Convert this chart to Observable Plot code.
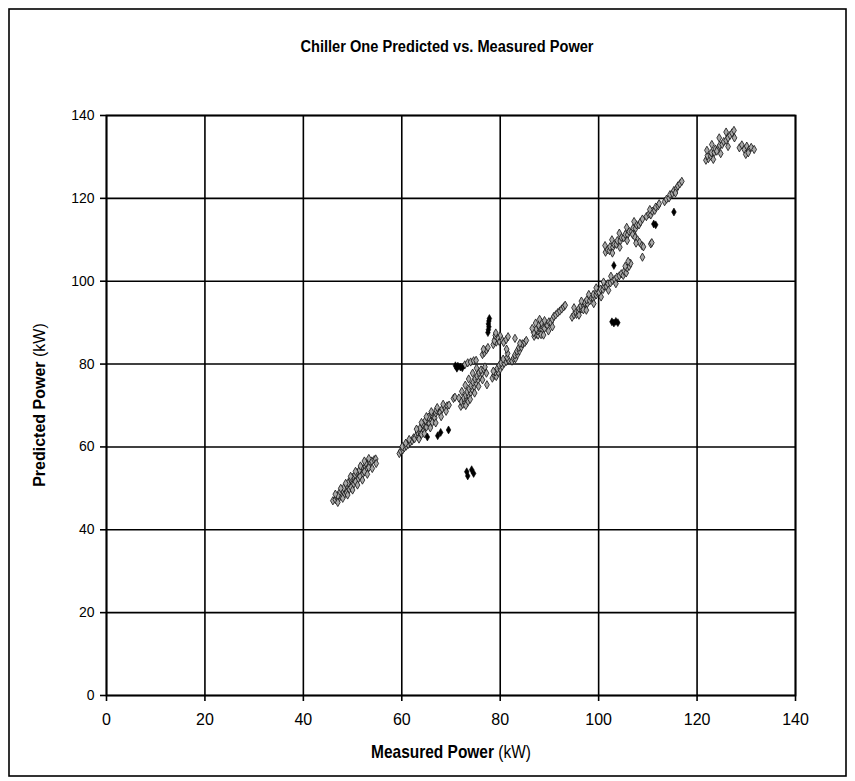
<!DOCTYPE html>
<html>
<head>
<meta charset="utf-8">
<script src="https://cdn.jsdelivr.net/npm/d3@7"></script>
<script src="https://cdn.jsdelivr.net/npm/@observablehq/plot@0.6"></script>
<style>
  html, body { margin: 0; padding: 0; background: #fff; }
  #chart { width: 855px; height: 781px; }
</style>
</head>
<body>
<div id="chart"></div>
<script>
// Tick values
const xTicks = [0, 20, 40, 60, 80, 100, 120, 140];
const yTicks = [0, 20, 40, 60, 80, 100, 120, 140];

// [measured kW, predicted kW], grouped by cluster
const group45to57 = [[46.0,47.0],[46.5,47.3],[46.8,47.8],[47.2,47.5],[47.5,48.3],[47.8,48.8],[47.3,48.9],[48.1,49.2],[48.4,48.6],[48.6,49.8],[48.2,50.1],[49.0,50.4],[49.3,49.7],[49.5,51.0],[49.1,51.3],[49.9,51.5],[50.2,50.9],[50.4,52.2],[50.0,52.6],[50.8,52.8],[51.1,52.1],[51.3,53.5],[50.9,53.8],[51.7,54.0],[52.0,53.3],[52.2,54.6],[51.8,55.0],[52.6,55.2],[52.9,54.5],[53.1,55.8],[52.7,56.1],[53.5,56.3],[53.9,56.6],[54.4,56.9],[54.7,57.1],[49.7,50.2],[50.6,51.6],[51.5,52.9],[52.4,54.0],[48.8,48.9],[47.0,48.2],[49.6,52.3],[50.5,53.3],[51.4,54.4],[53.3,55.0],[47.0,46.6],[48.0,47.6],[49.0,48.4],[50.0,49.6],[51.0,50.8],[52.0,52.0],[53.0,53.4],[54.0,54.8],[54.8,56.0],[46.5,48.6],[47.6,50.0],[48.6,51.2],[49.6,52.9],[50.6,54.1],[51.6,55.4],[52.4,56.6],[53.3,57.2]];
const group58to70 = [[59.5,58.4],[59.8,59.0],[60.2,59.3],[60.5,59.8],[60.1,60.1],[60.9,60.2],[61.3,60.6],[60.8,60.9],[61.7,61.1],[62.1,61.5],[61.5,61.8],[62.4,62.2],[62.6,62.0],[63.0,62.8],[63.4,62.5],[63.2,63.6],[63.8,63.4],[64.1,64.2],[63.7,64.5],[64.5,64.0],[64.6,65.1],[64.2,65.5],[65.0,64.8],[65.2,66.0],[64.8,66.4],[65.6,65.7],[65.8,66.9],[66.3,67.4],[65.9,67.8],[66.7,67.0],[66.9,68.2],[67.4,68.6],[67.0,68.9],[67.8,68.3],[68.2,69.2],[68.7,69.6],[69.2,69.9],[69.6,70.1],[65.4,67.2],[64.0,63.0],[66.2,65.9],[63.5,61.9],[64.6,63.2],[65.8,64.6],[66.9,65.8],[68.0,67.3],[69.0,68.6],[63.0,64.3],[64.0,65.9],[65.0,67.3],[66.0,68.5],[67.2,69.5],[68.4,70.3]];
const group70to82 = [[72.0,69.8],[72.4,70.3],[72.1,71.0],[72.8,70.9],[72.6,71.8],[73.2,71.6],[73.0,72.5],[73.6,72.4],[73.3,73.3],[74.0,73.1],[73.7,74.0],[74.3,73.9],[74.1,74.8],[74.7,74.6],[74.5,75.6],[75.1,75.4],[74.9,76.4],[75.5,76.2],[75.3,77.1],[75.9,77.0],[75.7,77.9],[76.3,77.8],[76.1,78.6],[76.7,78.7],[76.9,79.3],[73.4,70.8],[70.5,71.7],[70.8,72.0],[77.3,75.0],[73.0,70.0],[73.9,71.5],[74.8,73.0],[75.6,74.6],[76.4,76.2],[77.2,77.8],[71.6,71.8],[72.2,73.4],[72.9,74.9],[73.6,76.4],[74.4,77.8],[75.2,79.0],[72.8,79.8],[73.4,80.3],[74.0,80.5],[74.6,80.8],[75.1,80.9],[78.4,76.6],[78.8,77.3],[79.2,77.0],[79.0,78.1],[79.6,78.0],[79.4,78.9],[80.0,78.8],[79.8,79.7],[80.4,79.5],[80.2,80.3],[80.8,80.2],[81.2,80.6],[81.6,81.0],[78.6,78.3],[80.6,81.2]];
const group82to91 = [[76.4,82.3],[76.8,82.8],[77.2,83.4],[76.6,83.6],[77.5,84.0],[78.6,84.7],[79.2,85.3],[79.0,86.1],[79.8,85.5],[80.3,86.0],[80.7,85.2],[81.2,85.9],[81.6,86.6],[80.0,86.8],[79.4,86.4],[78.8,85.6],[79.0,86.9],[79.1,87.5],[81.4,81.6],[81.5,82.6],[81.3,83.6],[83.0,86.2],[82.4,80.7],[82.7,81.4],[83.1,81.3],[83.0,82.2],[83.5,82.3],[83.4,83.1],[83.9,83.2],[83.8,84.0],[84.3,84.1],[84.5,84.9],[85.0,85.2],[85.3,85.7],[84.0,85.0]];
const group86to95 = [[86.9,86.7],[87.3,87.2],[86.8,87.6],[87.7,87.0],[87.6,88.0],[88.1,87.6],[87.3,88.5],[88.0,88.8],[88.5,88.3],[87.8,89.4],[88.6,89.2],[89.0,88.6],[88.4,90.0],[89.2,89.8],[89.6,89.3],[89.0,90.5],[89.9,90.2],[90.3,90.0],[90.6,90.8],[90.9,91.5],[91.3,91.9],[91.7,92.4],[92.1,92.8],[92.5,93.3],[92.9,93.8],[93.2,94.2],[88.3,87.1],[88.8,87.0],[89.8,88.0],[90.6,89.0],[86.5,88.6],[87.2,89.9],[88.0,90.8]];
const group91to105 = [[94.6,91.3],[95.0,91.9],[95.5,92.0],[95.3,92.7],[95.9,92.6],[96.0,93.4],[96.5,93.3],[96.4,94.1],[97.0,94.0],[97.2,94.8],[97.7,94.6],[97.6,95.5],[98.2,95.3],[98.4,96.1],[98.9,95.9],[98.9,96.8],[99.5,96.7],[99.6,97.5],[100.1,97.3],[100.4,98.1],[100.9,98.0],[101.1,98.8],[101.6,98.7],[101.9,99.4],[102.4,99.6],[102.8,100.2],[103.3,100.4],[103.7,101.0],[104.2,101.3],[104.6,101.8],[105.0,101.4],[105.2,102.4],[105.6,102.0],[105.8,103.2],[106.2,103.6],[106.5,104.3],[106.0,104.8],[105.4,103.6],[96.9,93.1],[96.0,91.8],[97.5,93.0],[99.0,94.6],[100.5,96.2],[102.0,97.8],[103.5,99.4],[95.0,93.6],[96.5,95.2],[98.0,96.8],[99.5,98.4],[101.0,99.8],[102.5,101.2]];
const group107to119 = [[101.4,107.0],[101.8,107.6],[102.2,107.4],[102.3,108.3],[102.9,108.2],[103.1,109.0],[103.6,108.9],[103.8,109.8],[104.4,109.7],[104.6,110.6],[105.1,110.5],[105.4,111.3],[105.9,111.2],[106.2,112.0],[106.7,112.0],[107.0,112.8],[107.5,112.7],[107.7,113.6],[108.2,113.6],[108.5,114.3],[108.9,115.0],[102.8,106.8],[104.3,108.2],[105.8,109.8],[107.2,111.3],[101.3,108.6],[102.7,110.0],[104.2,111.6],[105.7,113.0],[107.2,114.4],[106.9,111.3],[107.4,110.6],[107.9,110.0],[108.3,109.4],[108.8,108.6],[109.1,108.3],[107.6,109.2],[110.6,109.0],[110.8,109.3],[108.9,105.8],[109.7,115.6],[110.2,116.2],[110.6,116.0],[110.9,116.9],[111.4,117.1],[111.6,117.9],[112.1,118.2],[112.3,118.7],[110.4,117.3]];
const group119to137 = [[113.4,119.2],[113.8,119.8],[114.3,120.1],[114.5,120.9],[115.0,121.2],[115.3,121.9],[115.8,122.3],[116.1,123.0],[116.5,123.5],[116.9,124.1],[115.6,121.3],[121.8,129.2],[122.3,129.6],[122.1,130.3],[122.8,130.2],[122.9,131.0],[123.5,131.1],[123.7,131.9],[124.3,132.1],[124.6,132.8],[125.1,133.0],[125.4,133.7],[125.9,134.0],[126.3,134.6],[126.7,135.2],[127.1,135.8],[127.5,136.4],[124.0,131.4],[123.3,129.4],[124.8,130.8],[126.3,132.5],[127.6,134.6],[122.0,131.6],[123.0,133.0],[124.5,134.6],[125.9,136.0],[128.6,132.2],[129.1,132.9],[129.6,131.8],[130.1,132.6],[130.5,131.6],[131.0,132.3],[131.6,131.8],[129.9,130.6],[130.4,131.0]];
// Small isolated / overlapping points that print as solid black
const isolatedPoints = [[65.2,62.4],[67.3,62.7],[67.9,63.5],[69.5,64.1],[73.2,54.0],[73.4,53.0],[74.2,54.5],[74.6,53.6],[77.5,87.6],[77.6,88.3],[77.7,89.0],[77.6,89.7],[77.7,90.4],[77.8,91.0],[70.9,79.6],[71.4,79.5],[71.9,79.3],[72.3,79.1],[71.2,79.0],[102.7,90.2],[103.1,89.9],[103.5,90.3],[103.9,90.0],[103.1,103.8],[111.2,113.8],[111.6,113.6],[115.3,116.7]];

const toRow = ([measured, predicted]) => ({measured, predicted});
const points = [group45to57, group58to70, group70to82, group82to91, group86to95, group91to105, group107to119, group119to137].flat().map(toRow);
const dark = isolatedPoints.map(toRow);

const W = 855, H = 781;
const arial = "'Liberation Sans', Arial, Helvetica, sans-serif";

const chart = Plot.plot({
  width: W,
  height: H,
  marginLeft: 106,
  marginRight: 60,
  marginTop: 115,
  marginBottom: 86,
  style: {background: "#fff", color: "#000", fontFamily: arial},
  x: {domain: [0, 140], ticks: xTicks, label: null},
  y: {domain: [0, 140], ticks: yTicks, label: null},
  marks: [
    Plot.gridX(xTicks, {stroke: "#000", strokeOpacity: 1, strokeWidth: 1.6}),
    Plot.gridY(yTicks, {stroke: "#000", strokeOpacity: 1, strokeWidth: 1.6}),
    Plot.frame({stroke: "#000", strokeWidth: 1.8}),
    Plot.axisX(xTicks, {tickSize: 6, tickPadding: 12, fontSize: 16, stroke: "#000", strokeWidth: 1.6, tickFormat: d => String(d)}),
    Plot.axisY(yTicks, {tickSize: 6, tickPadding: 6, fontSize: 14, stroke: "#000", strokeWidth: 1.6, tickFormat: d => String(d)}),
    Plot.dot(points, {x: "measured", y: "predicted", r: 2.5, fill: "#a8a8a8", stroke: "#111", strokeWidth: 0.8, symbol: "diamond"}),
    Plot.dot(dark, {x: "measured", y: "predicted", r: 2.4, fill: "#000", stroke: "#000", strokeWidth: 0.6, symbol: "diamond"})
  ]
});

document.getElementById("chart").appendChild(chart);

const svg = d3.select(chart);
// Outer chart-area border
svg.append("rect")
  .attr("x", 9).attr("y", 9).attr("width", W - 18).attr("height", H - 14)
  .attr("fill", "none").attr("stroke", "#000").attr("stroke-width", 1.6);

// Title
svg.append("text")
  .attr("transform", "translate(447,52) scale(0.86,1)")
  .attr("text-anchor", "middle")
  .attr("font-family", arial).attr("font-weight", "bold").attr("font-size", 17)
  .attr("fill", "#000")
  .text("Chiller One Predicted vs. Measured Power");

// X axis title
const xt = svg.append("text")
  .attr("transform", "translate(451,758) scale(0.86,1)")
  .attr("text-anchor", "middle")
  .attr("font-family", arial).attr("font-size", 18).attr("fill", "#000");
xt.append("tspan").attr("font-weight", "bold").text("Measured Power ");
xt.append("tspan").attr("font-weight", "normal").text("(kW)");

// Y axis title
const yt = svg.append("text")
  .attr("transform", "translate(45,405) rotate(-90)")
  .attr("text-anchor", "middle")
  .attr("font-family", arial).attr("font-size", 16).attr("fill", "#000");
yt.append("tspan").attr("font-weight", "bold").text("Predicted Power ");
yt.append("tspan").attr("font-weight", "normal").text("(kW)");
</script>
</body>
</html>
